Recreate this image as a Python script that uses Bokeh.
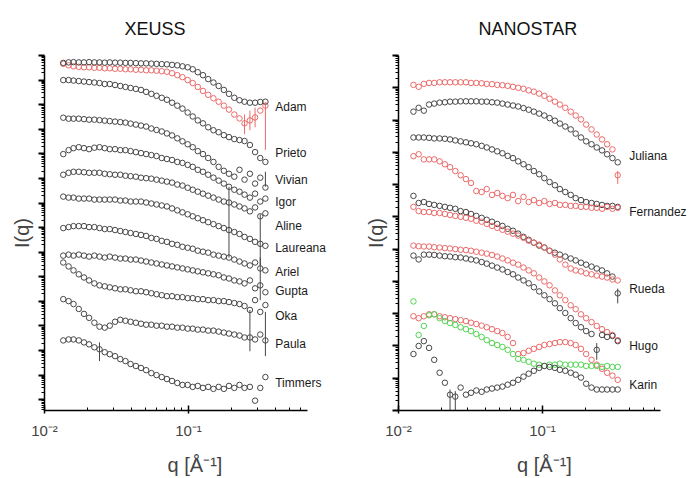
from bokeh.plotting import figure
from bokeh.layouts import row
from bokeh.models import FixedTicker, Label, Range1d, CustomJSTickFormatter
from bokeh.embed import file_html
from bokeh.resources import INLINE

# ---------------- data (log10 of intensity, arbitrary offsets as plotted) ----------------
q_xeuss = [0.0135, 0.0147, 0.0159, 0.0173, 0.0188, 0.0204, 0.0222, 0.0241, 0.0262, 0.0284,
           0.0309, 0.0336, 0.0365, 0.0396, 0.0431, 0.0468, 0.0508, 0.0552, 0.0600, 0.0652,
           0.0708, 0.0769, 0.0836, 0.0908, 0.0987, 0.107, 0.116, 0.126, 0.137, 0.149,
           0.162, 0.176, 0.191, 0.208, 0.226, 0.245, 0.267, 0.290, 0.315, 0.342]

q_nanostar = [0.0127, 0.0138, 0.0150, 0.0163, 0.0177, 0.0193, 0.0210, 0.0228, 0.0248, 0.0270,
              0.0294, 0.0319, 0.0347, 0.0378, 0.0410, 0.0446, 0.0485, 0.0527, 0.0573, 0.0624,
              0.0678, 0.0738, 0.0802, 0.0871, 0.0948, 0.103, 0.112, 0.122, 0.132, 0.144,
              0.157, 0.170, 0.185, 0.201, 0.219, 0.238, 0.259, 0.281, 0.306, 0.333]

adam_black = [13.70,13.72,13.73,13.72,13.72,13.73,13.72,13.72,13.71,13.72,13.71,13.71,13.70,13.70,13.69,
              13.68,13.68,13.67,13.66,13.65,13.64,13.62,13.60,13.56,13.52,13.44,13.32,13.20,13.04,12.90,
              12.76,12.60,12.44,12.28,12.18,12.12,12.08,12.08,12.11,12.12]
adam_red = [13.66,13.60,13.56,13.54,13.52,13.52,13.50,13.50,13.48,13.48,13.46,13.46,13.44,13.44,13.42,
            13.42,13.40,13.40,13.38,13.36,13.34,13.28,13.20,13.12,13.00,12.88,12.72,12.56,12.40,12.26,
            12.12,11.96,11.80,11.60,11.44,11.24,11.36,11.48,11.76,11.96]
prieto = [13.00,13.00,12.98,12.96,12.94,12.92,12.90,12.88,12.84,12.84,12.80,12.76,12.72,12.68,12.64,
          12.60,12.52,12.44,12.36,12.28,12.20,12.08,11.96,11.84,11.68,11.52,11.36,11.24,11.08,10.96,
          10.88,10.76,10.68,10.60,10.56,10.52,10.36,10.07,9.83,9.67]
vivian = [11.47,11.43,11.43,11.43,11.41,11.39,11.39,11.37,11.35,11.33,11.31,11.29,11.27,11.23,11.19,
          11.15,11.11,11.03,10.97,10.91,10.83,10.75,10.63,10.51,10.39,10.27,10.11,9.99,9.83,9.67,
          9.47,9.31,9.19,9.07,9.35,8.95,9.19,8.79,9.03,8.63]
igor = [9.99,10.15,10.23,10.27,10.23,10.19,10.25,10.27,10.23,10.19,10.19,10.15,10.15,10.11,10.07,
        10.03,9.99,9.95,9.91,9.83,9.79,9.75,9.67,9.63,9.55,9.47,9.35,9.27,9.15,9.03,
        8.91,8.79,8.66,8.54,8.46,8.34,8.22,8.38,8.06,8.18]
aline = [9.15,9.23,9.27,9.27,9.25,9.23,9.23,9.23,9.19,9.17,9.15,9.15,9.11,9.09,9.07,
         9.03,9.01,8.99,8.95,8.91,8.87,8.83,8.75,8.71,8.62,8.54,8.46,8.38,8.30,8.22,
         8.14,8.06,8.02,7.94,7.86,7.78,7.66,7.82,7.46,7.58]
laureana = [8.26,8.22,8.22,8.18,8.18,8.18,8.14,8.14,8.14,8.14,8.14,8.10,8.10,8.06,8.06,
            8.06,8.02,7.98,7.94,7.90,7.86,7.78,7.70,7.62,7.54,7.46,7.38,7.30,7.22,7.14,
            7.06,6.98,6.90,6.82,6.74,6.62,6.54,6.42,6.34,6.26]
ariel = [6.98,7.02,7.06,7.06,7.06,7.02,7.02,6.98,6.94,6.94,6.90,6.86,6.82,6.78,6.74,
         6.70,6.66,6.58,6.54,6.46,6.42,6.34,6.30,6.22,6.18,6.14,6.06,6.02,5.98,5.90,
         5.86,5.82,5.78,5.70,5.62,5.54,5.46,5.58,5.34,5.26]
gupta = [5.86,5.90,5.86,5.90,5.86,5.82,5.86,5.82,5.78,5.82,5.78,5.74,5.74,5.70,5.70,
         5.66,5.62,5.58,5.54,5.50,5.46,5.42,5.38,5.34,5.30,5.26,5.22,5.18,5.14,5.10,
         5.06,4.97,4.93,4.85,4.81,4.73,4.85,4.53,4.65,4.37]
oka = [5.58,5.42,5.26,5.10,4.97,4.85,4.73,4.65,4.61,4.57,4.53,4.49,4.49,4.45,4.41,
       4.41,4.37,4.33,4.29,4.25,4.21,4.21,4.17,4.17,4.13,4.13,4.09,4.09,4.05,4.05,
       4.01,4.01,3.97,3.93,3.89,3.81,3.65,4.05,3.57,3.85]
paula = [4.09,4.01,3.89,3.69,3.49,3.33,3.13,2.97,2.93,3.01,3.17,3.25,3.21,3.17,3.13,
         3.09,3.05,3.05,3.01,3.01,2.97,2.97,2.93,2.93,2.89,2.89,2.85,2.85,2.81,2.81,
         2.77,2.73,2.69,2.65,2.61,2.53,2.53,2.45,2.65,2.41]
timmers = [2.41,2.45,2.45,2.41,2.33,2.25,2.13,2.05,1.93,1.85,1.77,1.65,1.57,1.45,1.37,
           1.29,1.20,1.08,1.00,0.92,0.84,0.76,0.68,0.60,0.60,0.52,0.56,0.48,0.52,0.44,
           0.52,0.44,0.56,0.48,0.60,0.48,0.52,-0.04,0.48,0.92]

juliana_red = [10.09,10.03,10.12,10.15,10.15,10.17,10.17,10.17,10.17,10.17,10.17,10.15,10.15,10.14,10.12,
               10.11,10.09,10.08,10.06,10.03,10.00,9.97,9.92,9.88,9.82,9.75,9.66,9.57,9.48,9.38,
               9.26,9.14,9.02,8.86,8.71,8.55,8.40,8.25,8.09,7.29]
juliana_black = [9.26,9.38,9.29,9.48,9.51,9.54,9.55,9.57,9.57,9.58,9.58,9.58,9.58,9.57,9.57,
                 9.55,9.54,9.51,9.48,9.45,9.42,9.37,9.32,9.26,9.20,9.14,9.06,8.98,8.89,8.80,
                 8.71,8.58,8.46,8.34,8.25,8.15,8.06,7.94,7.82,7.69]
fernandez_black = [8.46,8.46,8.46,8.45,8.43,8.43,8.42,8.40,8.37,8.34,8.31,8.28,8.25,8.20,8.15,
                   8.09,8.03,7.97,7.89,7.82,7.72,7.63,7.54,7.42,7.32,7.20,7.08,6.98,6.86,6.77,
                   6.68,6.58,6.52,6.46,6.43,6.40,6.37,6.34,6.34,6.31]
fernandez_red = [7.88,7.94,7.78,7.78,7.78,7.72,7.63,7.54,7.42,7.29,7.17,7.05,6.80,6.77,6.86,
                 6.68,6.74,6.65,6.58,6.68,6.49,6.62,6.46,6.52,6.43,6.49,6.40,6.43,6.37,6.37,
                 6.34,6.34,6.31,6.31,6.28,6.28,6.25,6.31,6.25,6.28]
rueda_black = [6.65,6.43,6.46,6.40,6.37,6.34,6.31,6.28,6.25,6.18,6.15,6.09,6.03,5.97,5.91,
               5.85,5.78,5.72,5.63,5.57,5.48,5.38,5.29,5.20,5.11,5.05,4.95,4.89,4.83,4.77,
               4.71,4.65,4.58,4.52,4.46,4.40,4.34,4.25,4.15,3.63]
rueda_red = [6.31,6.18,6.15,6.15,6.12,6.12,6.09,6.06,6.03,6.00,5.97,5.94,5.88,5.85,5.78,
             5.72,5.66,5.60,5.54,5.48,5.42,5.35,5.26,5.20,5.14,5.05,4.95,4.83,4.68,4.52,
             4.40,4.34,4.31,4.25,4.22,4.18,4.15,4.12,4.06,4.03]
hugo_red = [5.11,5.09,5.08,5.08,5.06,5.05,5.03,5.02,5.00,4.98,4.97,4.95,4.92,4.89,4.86,
            4.82,4.77,4.71,4.65,4.58,4.52,4.43,4.34,4.25,4.12,4.00,3.88,3.72,3.57,3.42,
            3.26,3.14,2.98,2.86,2.74,2.62,2.52,2.43,2.34,2.18]
hugo_black = [4.80,4.68,4.83,4.83,4.82,4.80,4.78,4.77,4.75,4.74,4.71,4.68,4.65,4.60,4.55,
              4.49,4.43,4.37,4.29,4.22,4.12,4.03,3.94,3.82,3.69,3.57,3.45,3.32,3.17,3.02,
              2.86,2.71,2.58,2.46,2.37,1.88,2.34,2.28,2.31,2.15]
karin_red = [2.92,2.86,2.92,2.98,2.98,2.92,2.89,2.86,2.83,2.80,2.77,2.72,2.68,2.63,2.58,
             2.52,2.46,2.40,2.28,2.09,1.75,1.78,1.85,1.91,1.97,2.03,2.06,2.09,2.12,2.12,
             2.09,2.03,1.91,1.75,1.57,1.42,1.29,1.17,1.08,0.95]
karin_green = [3.38,2.34,2.62,2.95,2.98,2.86,2.77,2.71,2.65,2.58,2.52,2.46,2.37,2.28,2.18,
               2.09,2.03,1.97,1.88,1.75,1.60,1.57,1.51,1.45,1.42,1.38,1.42,1.42,1.45,1.42,
               1.42,1.42,1.42,1.38,1.38,1.38,1.35,1.38,1.35,1.35]
karin_black = [1.75,2.00,2.15,1.94,1.57,1.17,0.86,0.49,0.43,0.71,0.49,0.55,0.62,0.58,0.65,
               0.68,0.71,0.74,0.80,0.86,0.95,1.05,1.14,1.23,1.32,1.38,1.35,1.32,1.26,1.23,
               1.17,1.11,1.02,0.83,0.71,0.65,0.65,0.65,0.65,0.65]

# error bars (q, low log10 I, high log10 I)
xeuss_err_red_q = [0.245, 0.267, 0.290, 0.342]
xeuss_err_red_lo = [10.80, 10.96, 11.08, 10.16]
xeuss_err_red_hi = [11.60, 11.76, 11.88, 12.08]
xeuss_err_q = [0.191, 0.315, 0.267, 0.342, 0.315, 0.0241, 0.342]
xeuss_err_lo = [5.78, 5.46, 1.97, 1.77, 4.05, 1.57, 8.66]
xeuss_err_hi = [8.66, 7.54, 3.65, 3.57, 5.78, 2.33, 9.27]
nano_err_red_q = [0.333]
nano_err_red_lo = [7.02]
nano_err_red_hi = [7.42]
nano_err_q = [0.0228, 0.0248, 0.238, 0.333]
nano_err_lo = [-0.6, -0.6, 1.57, 3.32]
nano_err_hi = [0.65, 0.60, 2.09, 3.78]

xeuss_names = ["Adam", "Prieto", "Vivian", "Igor", "Aline", "Laureana", "Ariel", "Gupta", "Oka", "Paula", "Timmers"]
nano_names = ["Juliana", "Fernandez", "Rueda", "Hugo", "Karin"]

# layout of the name labels (log10 I at which each name sits)
xeuss_name_pos = [11.92, 10.03, 8.95, 8.06, 7.06, 6.18, 5.18, 4.41, 3.41, 2.25, 0.68]
nano_name_pos = [7.88, 6.15, 3.78, 2.00, 0.80]

FONT = "Liberation Sans"
GRAY = "#474747"
RED = "#ec6a6a"
GREEN = "#55d655"


def lin(v):
    return [10.0 ** a for a in v]


def make_panel(title, y_lo, y_hi, decades, bl, bt, bb, x_axis_end, x_frame_end, frame_w):
    p = figure(width=bl + frame_w, height=478, x_axis_type="log", y_axis_type="log",
               x_range=Range1d(0.01, x_frame_end), y_range=Range1d(10.0 ** y_lo, 10.0 ** y_hi),
               min_border_left=bl, min_border_right=0, min_border_top=bt, min_border_bottom=bb,
               output_backend="svg", toolbar_location=None, title=title)
    p.grid.visible = False
    p.outline_line_color = None
    p.background_fill_color = "white"
    p.border_fill_color = "white"
    p.title.text_font = FONT
    p.title.text_font_size = "18px"
    p.title.text_font_style = "normal"
    p.title.text_color = "#111111"
    p.title.align = "left"
    p.title.offset = 80
    p.title.standoff = 29
    p.title.vertical_align = "top"

    xa = p.xaxis[0]
    xa.bounds = (0.01, x_axis_end)
    xa.ticker = FixedTicker(ticks=[0.01, 0.1],
                            minor_ticks=[0.02, 0.03, 0.04, 0.05, 0.06, 0.07, 0.08, 0.09,
                                         0.2, 0.3, 0.4, 0.5, 0.6])
    xa.major_label_overrides = {0.01: "10\u207b\u00b2", 0.1: "10\u207b\u00b9"}
    xa.major_label_text_font = FONT
    xa.major_label_text_font_size = "15px"
    xa.major_label_standoff = 8
    xa.axis_label = "q [\u00c5\u207b\u00b9]"
    xa.axis_label_text_font = FONT
    xa.axis_label_text_font_size = "20px"
    xa.axis_label_text_font_style = "normal"
    xa.axis_label_standoff = 12
    xa.axis_line_width = 1.5
    xa.major_tick_in = 5
    xa.major_tick_out = 3
    xa.minor_tick_in = 3
    xa.minor_tick_out = 0
    xa.major_tick_line_width = 1.5

    ya = p.yaxis[0]
    ya.ticker = FixedTicker(ticks=[10.0 ** k for k in range(0, decades + 1)],
                            minor_ticks=[m * 10.0 ** k for k in range(-1, decades + 1) for m in range(2, 10)])
    ya.formatter = CustomJSTickFormatter(code="return ''")
    ya.major_label_standoff = 0
    ya.axis_label = "I(q)"
    ya.axis_label_text_font = FONT
    ya.axis_label_text_font_size = "20px"
    ya.axis_label_text_font_style = "normal"
    ya.axis_label_standoff = 6
    ya.axis_line_width = 1.5
    ya.major_tick_in = 0
    ya.major_tick_out = 6
    ya.minor_tick_in = 0
    ya.minor_tick_out = 3
    ya.major_tick_line_width = 1.8
    return p


def draw(p, q, vals, color):
    p.scatter(x=q, y=lin(vals), marker="circle", size=5.5, fill_color=None,
              line_color=color, line_width=1.0)


def bars(p, q, lo, hi, color):
    p.segment(x0=q, y0=lin(lo), x1=q, y1=lin(hi), line_color=color, line_width=1)


# ---------------- XEUSS ----------------
# frame spans 301 px (44..345); 144 px per decade -> frame end at 10**0.090
left = make_panel("XEUSS", -0.44, 14.0, 14, 44, 52, 66, 0.67, 1.231, 301)
draw(left, q_xeuss, adam_red, RED)
for s in [adam_black, prieto, vivian, igor, aline, laureana, ariel, gupta, oka, paula, timmers]:
    draw(left, q_xeuss, s, GRAY)
bars(left, xeuss_err_red_q, xeuss_err_red_lo, xeuss_err_red_hi, RED)
bars(left, xeuss_err_q, xeuss_err_lo, xeuss_err_hi, GRAY)
for name, pos in zip(xeuss_names, xeuss_name_pos):
    left.add_layout(Label(x=0.40, y=10.0 ** pos, text=name, text_font=FONT, text_font_size="12px",
                          text_baseline="middle", text_align="left", text_color="#1a1a1a"))

# ---------------- NANOSTAR ----------------
# frame spans 292 px (398..690)
right = make_panel("NANOSTAR", 0.0, 11.0, 11, 53, 55, 65, 0.66, 1.066, 292)
for s, c in [(juliana_red, RED), (juliana_black, GRAY), (fernandez_black, GRAY), (fernandez_red, RED),
             (rueda_black, GRAY), (rueda_red, RED), (hugo_red, RED), (hugo_black, GRAY),
             (karin_red, RED), (karin_green, GREEN), (karin_black, GRAY)]:
    draw(right, q_nanostar, s, c)
bars(right, nano_err_red_q, nano_err_red_lo, nano_err_red_hi, RED)
bars(right, nano_err_q, nano_err_lo, nano_err_hi, GRAY)
for name, pos in zip(nano_names, nano_name_pos):
    right.add_layout(Label(x=0.40, y=10.0 ** pos, text=name, text_font=FONT, text_font_size="12px",
                           text_baseline="middle", text_align="left", text_color="#1a1a1a"))

layout = row(left, right)
open("out.html", "w").write(file_html(layout, INLINE))
